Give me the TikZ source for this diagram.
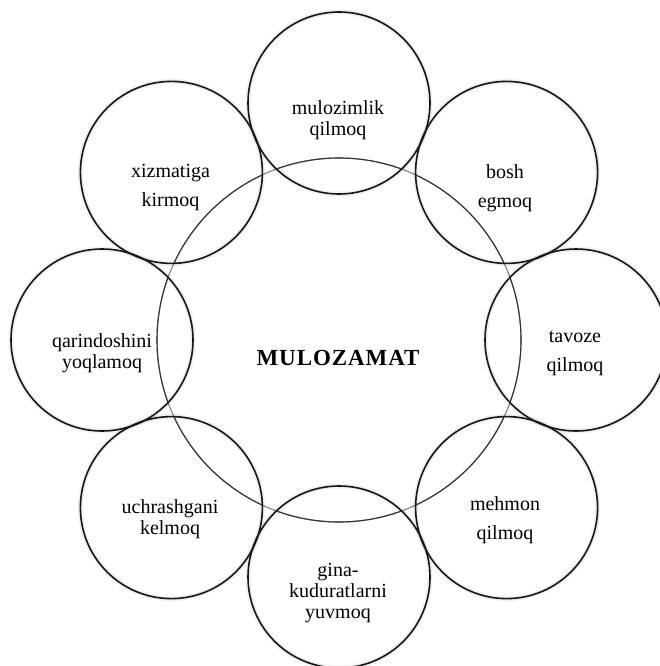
\documentclass[tikz,border=0pt]{standalone}
\usepackage{fontspec}
\setmainfont{Liberation Serif}
\newfontfamily\titlefont[LetterSpace=4]{Liberation Serif}
\begin{document}
\begin{tikzpicture}[x=1pt,y=-1pt,
  outercirc/.style={circle, minimum size=182pt, inner sep=0pt, draw=black!90, line width=1.6pt},
  glowline/.style={draw=black, line width=5pt, opacity=0.06},
  corecirc/.style={circle, minimum size=364pt, inner sep=0pt, draw=black!50, line width=1.1pt},
  lbl/.style={font=\fontsize{20}{21}\selectfont, align=center, inner sep=0pt},
  ttl/.style={font=\fontsize{23}{25}\titlefont\bfseries, inner sep=0pt}]
\useasboundingbox (0,0) rectangle (660,666);
\fill[white] (0,0) rectangle (660,666);
% central circle
\node[corecirc] (core) at (339,340) {};
% outer circles
\node[outercirc] (c1) at (339,103) {};
\node[outercirc] (c2) at (506.6,172.4) {};
\node[outercirc] (c3) at (576,340) {};
\node[outercirc] (c4) at (506.6,507.6) {};
\node[outercirc] (c5) at (339,577) {};
\node[outercirc] (c6) at (171.4,507.6) {};
\node[outercirc] (c7) at (102,340) {};
\node[outercirc] (c8) at (171.4,172.4) {};
% soft glow and darker core arcs inside outer circles
\foreach \c in {c1,c2,c3,c4,c5,c6,c7,c8}{
  \draw[glowline] (\c.center) circle[radius=91pt];
  \begin{scope}
    \clip (\c.center) circle[radius=91pt];
    \draw[black!80, line width=1.1pt] (core.center) circle[radius=182pt];
  \end{scope}
}
% labels
\node[lbl] (t1) at (338,120) {mulozimlik\\qilmoq};
\node[lbl] (t2) at (505,188) {bosh\\[8pt]egmoq};
\node[lbl] (t3) at (575,353) {tavoze\\[8pt]qilmoq};
\node[lbl] (t4) at (505,520) {mehmon\\[8pt]qilmoq};
\node[lbl] (t5) at (338,593) {gina-\\kuduratlarni\\yuvmoq};
\node[lbl] (t6) at (170,519) {uchrashgani\\kelmoq};
\node[lbl] (t7) at (102,353) {qarindoshini\\yoqlamoq};
\node[lbl] (t8) at (170.5,188) {xizmatiga\\[8pt]kirmoq};
\node[ttl] (title) at (338,358) {MULOZAMAT};
\end{tikzpicture}
\end{document}
